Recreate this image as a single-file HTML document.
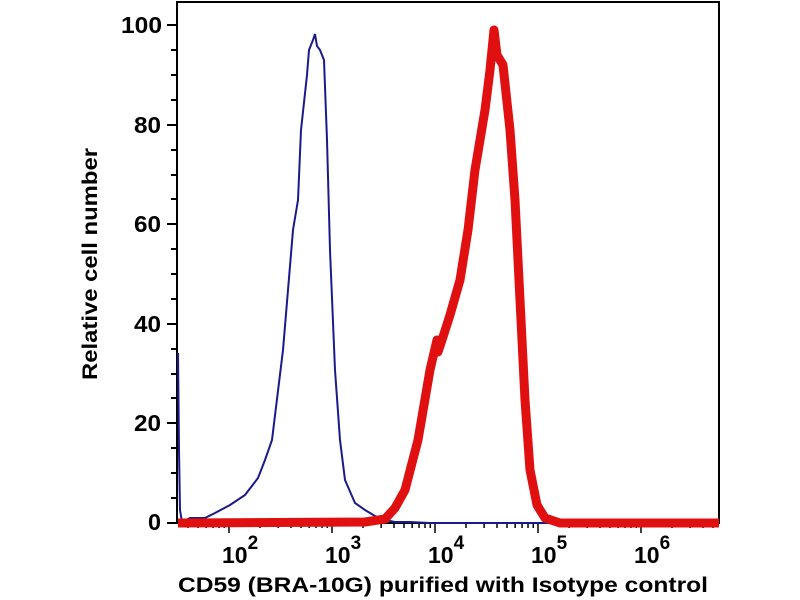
<!DOCTYPE html>
<html><head><style>body{margin:0;background:#fff}svg{display:block}text{font-family:"Liberation Sans",Arial,sans-serif;font-weight:bold;fill:#000}</style></head><body>
<svg width="800" height="600" viewBox="0 0 800 600">
<rect x="177" y="2" width="542" height="521" fill="none" stroke="#000" stroke-width="2"/>
<g stroke="#000" stroke-width="2">
<line x1="167" y1="25" x2="177" y2="25"/><line x1="167" y1="125" x2="177" y2="125"/><line x1="167" y1="224" x2="177" y2="224"/><line x1="167" y1="324" x2="177" y2="324"/><line x1="167" y1="423" x2="177" y2="423"/><line x1="167" y1="523" x2="177" y2="523"/>
<line x1="171" y1="50" x2="177" y2="50"/><line x1="171" y1="75" x2="177" y2="75"/><line x1="171" y1="100" x2="177" y2="100"/>
<line x1="171" y1="150" x2="177" y2="150"/><line x1="171" y1="175" x2="177" y2="175"/><line x1="171" y1="199" x2="177" y2="199"/>
<line x1="171" y1="249" x2="177" y2="249"/><line x1="171" y1="274" x2="177" y2="274"/><line x1="171" y1="299" x2="177" y2="299"/>
<line x1="171" y1="349" x2="177" y2="349"/><line x1="171" y1="374" x2="177" y2="374"/><line x1="171" y1="398" x2="177" y2="398"/>
<line x1="171" y1="448" x2="177" y2="448"/><line x1="171" y1="473" x2="177" y2="473"/><line x1="171" y1="498" x2="177" y2="498"/>
</g>
<g id="xt" stroke="#000" stroke-width="1.5"></g>
<g font-size="23" text-anchor="end">
<text x="162" y="33" textLength="41" lengthAdjust="spacingAndGlyphs">100</text>
<text x="161" y="133" textLength="27" lengthAdjust="spacingAndGlyphs">80</text>
<text x="161" y="232" textLength="27" lengthAdjust="spacingAndGlyphs">60</text>
<text x="161" y="332" textLength="27" lengthAdjust="spacingAndGlyphs">40</text>
<text x="161" y="431" textLength="27" lengthAdjust="spacingAndGlyphs">20</text>
<text x="161" y="530" textLength="13" lengthAdjust="spacingAndGlyphs">0</text>
</g>
<g font-size="23">
<text x="222" y="563">10<tspan dy="-14" font-size="19">2</tspan></text>
<text x="325" y="563">10<tspan dy="-14" font-size="19">3</tspan></text>
<text x="428" y="563">10<tspan dy="-14" font-size="19">4</tspan></text>
<text x="531" y="563">10<tspan dy="-14" font-size="19">5</tspan></text>
<text x="634" y="563">10<tspan dy="-14" font-size="19">6</tspan></text>
</g>
<text x="178" y="592" font-size="21" textLength="530" lengthAdjust="spacingAndGlyphs">CD59 (BRA-10G) purified with Isotype control</text>
<text transform="translate(97,264) rotate(-90)" font-size="21" text-anchor="middle" textLength="232" lengthAdjust="spacingAndGlyphs">Relative cell number</text>
<polyline fill="none" stroke="#1a1a8c" stroke-width="2" points="178,353 179,450 180,510 182,522 190,518 205,518 215,513 230,505 245,495 258,478 265,460 272,440 283,350 293,230 298,200 301,130 307,75 309,50 313,40 315,34 317,46 320,50 324,60 327,140 330,250 335,370 340,440 345,480 355,503 365,510 375,516 385,520 395,522 410,522 430,523 719,523"/>
<polyline fill="none" stroke="#e01010" stroke-width="9" stroke-linejoin="round" points="178,523 365,522 385,519 395,508 405,490 418,440 430,370 437,340 438,352 442,340 450,315 460,280 468,230 475,170 485,110 490,70 494,30 497,55 503,65 510,130 515,200 520,300 525,400 530,470 537,505 545,518 560,523 719,523"/>
</svg>
<script>
var g=document.getElementById('xt'),s='';
for(var d=1;d<8;d++){for(var m=1;m<10;m++){var x=229+103*(d-2+Math.log10(m));if(x<178||x>718)continue;var L=m==1?10:5;s+='<line x1="'+x+'" y1="523" x2="'+x+'" y2="'+(523+L)+'"/>';}}
g.innerHTML=s;
</script>
</body></html>
